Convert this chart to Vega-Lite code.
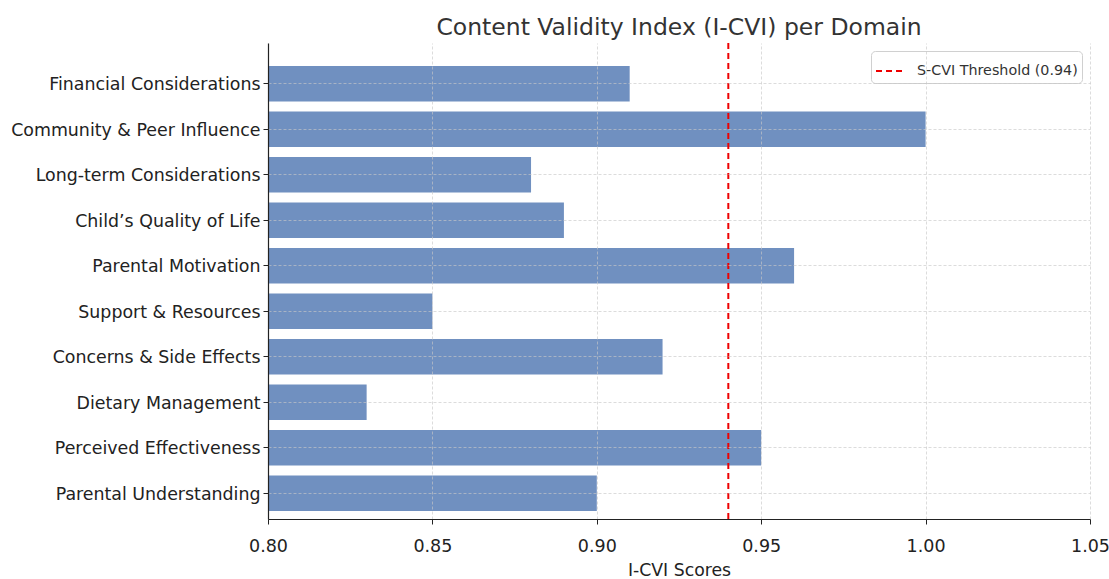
{
  "$schema": "https://vega.github.io/schema/vega-lite/v6.json",
  "autosize": "none",
  "width": 822,
  "height": 476,
  "padding": {"left": 268, "top": 43, "right": 19, "bottom": 60},
  "background": "white",
  "config": {
    "view": {"stroke": null},
    "font": "DejaVu Sans",
    "axis": {"labelFont": "DejaVu Sans", "titleFont": "DejaVu Sans"}
  },
  "title": {
    "text": "Content Validity Index (I-CVI) per Domain",
    "font": "DejaVu Sans",
    "fontSize": 23.5,
    "fontWeight": "normal",
    "color": "#333333",
    "anchor": "middle",
    "offset": 3
  },
  "datasets": {
    "bars": [
      {"domain": "Financial Considerations", "icvi": 0.91},
      {"domain": "Community & Peer Influence", "icvi": 1.00},
      {"domain": "Long-term Considerations", "icvi": 0.88},
      {"domain": "Child’s Quality of Life", "icvi": 0.89},
      {"domain": "Parental Motivation", "icvi": 0.96},
      {"domain": "Support & Resources", "icvi": 0.85},
      {"domain": "Concerns & Side Effects", "icvi": 0.92},
      {"domain": "Dietary Management", "icvi": 0.83},
      {"domain": "Perceived Effectiveness", "icvi": 0.95},
      {"domain": "Parental Understanding", "icvi": 0.90}
    ],
    "threshold": [
      {"label": "S-CVI Threshold (0.94)", "value": 0.94}
    ]
  },
  "layer": [
    {
      "data": {"name": "bars"},
      "mark": {"type": "bar", "color": "#7090c0", "clip": true},
      "encoding": {
        "y": {
          "field": "domain",
          "type": "nominal",
          "sort": null,
          "scale": {"paddingInner": 0.22, "paddingOuter": 0.342, "align": 0.74},
          "axis": {
            "title": null,
            "labelFontSize": 17.4,
            "labelLimit": 0,
            "labelOffset": 1.5,
            "labelColor": "#222222",
            "labelPadding": 3,
            "tickSize": 5,
            "tickColor": "#222222",
            "domainColor": "#222222",
            "domainWidth": 1.2,
            "bandPosition": 0.5,
            "grid": true,
            "gridColor": "#c8c8c8",
            "gridDash": [3, 2],
            "gridWidth": 0.8,
            "gridOpacity": 0.8,
            "zindex": 1
          }
        },
        "x": {
          "field": "icvi",
          "type": "quantitative",
          "scale": {"domain": [0.8, 1.05], "zero": false, "nice": false},
          "axis": {
            "title": "I-CVI Scores",
            "titleFontSize": 17.3,
            "titleFontWeight": "normal",
            "titleColor": "#222222",
            "titlePadding": 7,
            "values": [0.8, 0.85, 0.9, 0.95, 1.0, 1.05],
            "format": ".2f",
            "labelFontSize": 17.5,
            "labelColor": "#222222",
            "labelPadding": 13,
            "labelFlush": false,
            "tickSize": 5,
            "tickColor": "#222222",
            "domainColor": "#222222",
            "domainWidth": 1.2,
            "grid": true,
            "gridColor": "#c8c8c8",
            "gridDash": [3, 2],
            "gridWidth": 0.8,
            "gridOpacity": 0.8,
            "zindex": 1
          }
        },
        "x2": {"datum": 0.8}
      }
    },
    {
      "data": {"name": "threshold"},
      "mark": {"type": "rule", "strokeDash": [6, 4], "strokeWidth": 2},
      "encoding": {
        "x": {"field": "value", "type": "quantitative"},
        "color": {
          "field": "label",
          "type": "nominal",
          "scale": {"range": ["#ee0000"]},
          "legend": {
            "title": null,
            "orient": "top-right",
            "offset": 8,
            "symbolType": "stroke",
            "symbolStrokeWidth": 2,
            "symbolSize": 900,
            "symbolDash": [6, 4],
            "labelFontSize": 14.3,
            "labelLimit": 0,
            "labelColor": "#333333",
            "labelFont": "DejaVu Sans",
            "labelOffset": 10,
            "strokeColor": "#d0d0d0",
            "fillColor": "white",
            "cornerRadius": 4,
            "padding": 4
          }
        }
      }
    }
  ]
}
